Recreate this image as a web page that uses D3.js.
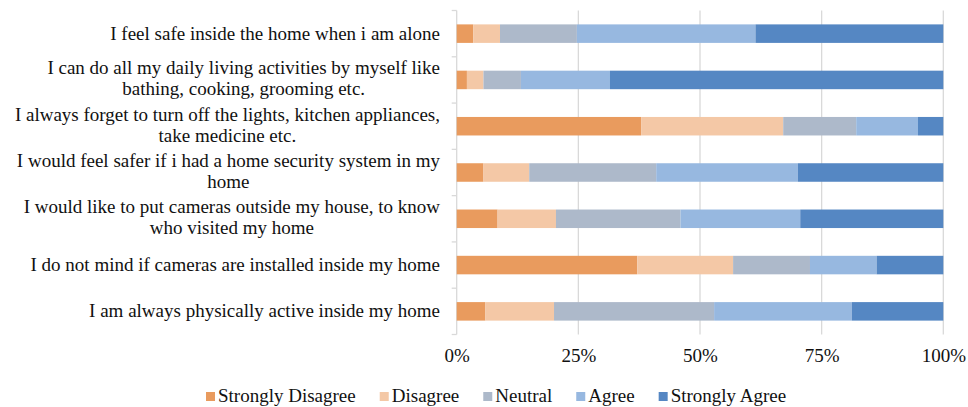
<!DOCTYPE html>
<html>
<head>
<meta charset="utf-8">
<script src="https://cdn.jsdelivr.net/npm/d3@7/dist/d3.min.js"></script>
<style>
  html, body { margin: 0; padding: 0; background: #fff; }
  svg { display: block; }
</style>
</head>
<body>
<svg id="chart" width="968" height="407"></svg>
<script>
// Survey statements, top to bottom (each entry is a list of wrapped lines)
const statements = [
  ["I feel safe inside the home when i am alone"],
  ["I can do all my daily living activities by myself like", "bathing, cooking, grooming etc."],
  ["I always forget to turn off the lights, kitchen appliances,", "take medicine etc."],
  ["I would feel safer if i had a home security system in my", "home"],
  ["I would like to put cameras outside my house, to know", "who visited my home"],
  ["I do not mind if cameras are installed inside my home"],
  ["I am always physically active inside my home"]
];

const responses = ["Strongly Disagree", "Disagree", "Neutral", "Agree", "Strongly Agree"];

// Share of answers (%) per statement, in the order of `statements`
const stronglyDisagree = [3.4, 2.1, 37.9, 5.5, 8.4, 37.1, 5.9];
const disagree         = [5.5, 3.4, 29.2, 9.4, 12.0, 19.7, 14.1];
const neutral          = [15.8, 7.7, 15.0, 26.1, 25.6, 15.8, 32.9];
const agree            = [36.7, 18.3, 12.7, 29.1, 24.6, 13.7, 28.3];
const stronglyAgree    = [38.6, 68.5, 5.2, 29.9, 29.4, 13.7, 18.8];

const tickValues = [0, 0.25, 0.5, 0.75, 1];
const colors = ["#E99B5E", "#F4C8A6", "#ADB9CA", "#97B8E0", "#5587C3"];
const FONT = '"Times New Roman", "Liberation Serif", Tinos, "DejaVu Serif", serif';

const seriesValues = [stronglyDisagree, disagree, neutral, agree, stronglyAgree];
const rows = statements.map((lines, i) => {
  const row = { id: i, lines };
  const total = d3.sum(seriesValues, s => s[i]);
  responses.forEach((r, k) => { row[r] = seriesValues[k][i] / total; });
  return row;
});

const svg = d3.select("#chart");
const margin = { left: 456.7, right: 24.7, top: 10.5, bottom: 72.5 };
const W = 968, H = 407;

const x = d3.scaleLinear().domain([0, 1]).range([margin.left, W - margin.right]);
const y = d3.scaleBand().domain(rows.map(d => d.id))
  .range([margin.top, H - margin.bottom]).paddingInner(0.6).paddingOuter(0.3);

// Vertical gridlines
svg.append("g")
  .selectAll("line")
  .data(tickValues.slice(1))
  .join("line")
  .attr("x1", d => x(d)).attr("x2", d => x(d))
  .attr("y1", margin.top).attr("y2", H - margin.bottom)
  .attr("stroke", "#d9d9d9").attr("stroke-width", 1.3);

// Category axis line with outward ticks on band boundaries
const bandEdges = rows.map(d => y(d.id) - y.step() * y.paddingInner() / 2);
bandEdges.push(H - margin.bottom);
const axisG = svg.append("g");
axisG.append("line")
  .attr("x1", x(0)).attr("x2", x(0))
  .attr("y1", margin.top).attr("y2", H - margin.bottom)
  .attr("stroke", "#d9d9d9").attr("stroke-width", 1.3);
axisG.selectAll("line.tick")
  .data(bandEdges)
  .join("line").attr("class", "tick")
  .attr("x1", x(0) - 5).attr("x2", x(0))
  .attr("y1", d => d).attr("y2", d => d)
  .attr("stroke", "#d9d9d9").attr("stroke-width", 1.3);

// Stacked bars
const stack = d3.stack().keys(responses);
const layers = stack(rows);
svg.append("g")
  .selectAll("g")
  .data(layers)
  .join("g")
  .attr("fill", (d, i) => colors[i])
  .selectAll("rect")
  .data(d => d)
  .join("rect")
  .attr("x", d => x(d[0]))
  .attr("width", d => x(d[1]) - x(d[0]))
  .attr("y", d => y(d.data.id))
  .attr("height", y.bandwidth());

// Percentage axis labels
const xAxis = d3.axisBottom(x).tickValues(tickValues)
  .tickFormat(d3.format(".0%")).tickSize(0).tickPadding(0);
const xg = svg.append("g")
  .attr("transform", `translate(0,${H - margin.bottom + 27})`)
  .call(xAxis)
  .attr("font-family", FONT).attr("font-size", 19);
xg.select(".domain").remove();
xg.selectAll("text").attr("dy", 0).attr("fill", "#111");

// Statement labels: centred lines, block right-aligned against the axis
const labelRight = 440;
const lineH = 21;
const labels = svg.append("g").attr("font-family", FONT).attr("font-size", 19).attr("fill", "#111");
rows.forEach(d => {
  const g = labels.append("g");
  const texts = g.selectAll("text").data(d.lines).join("text")
    .attr("text-anchor", "middle")
    .text(t => t);
  const widths = [];
  texts.each(function () { widths.push(this.getComputedTextLength()); });
  const maxW = d3.max(widths);
  const cy = y(d.id) + y.bandwidth() / 2 - (d.lines.length > 1 ? 1 : 0);
  const n = d.lines.length;
  texts.attr("x", labelRight - maxW / 2)
    .attr("y", (t, i) => cy + (i - (n - 1) / 2) * lineH + 6);
});

// Legend
const legend = svg.append("g").attr("transform", "translate(206,392)")
  .attr("font-family", FONT).attr("font-size", 19).attr("fill", "#111");
let lx = 0;
responses.forEach((r, i) => {
  legend.append("rect")
    .attr("x", lx).attr("y", 0).attr("width", 9).attr("height", 9)
    .attr("fill", colors[i]);
  const t = legend.append("text")
    .attr("x", lx + 12).attr("y", 10)
    .text(r);
  lx += 12 + t.node().getComputedTextLength() + 24;
});
</script>
</body>
</html>
